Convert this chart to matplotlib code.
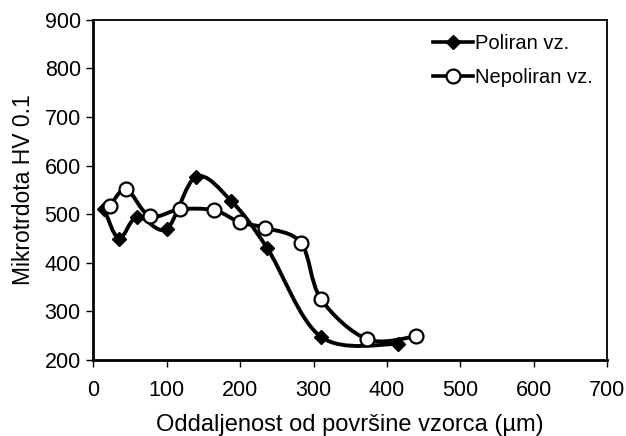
import numpy as np
import matplotlib.pyplot as plt
from matplotlib.path import Path
from matplotlib.patches import PathPatch

plt.rcParams['font.family'] = ['Liberation Sans', 'DejaVu Sans']

# Data
polirani_x = [15, 35, 60, 100, 140, 188, 237, 310, 415]
polirani_y = [510, 450, 495, 470, 577, 527, 430, 248, 233]

nepolirani_x = [23, 45, 77, 118, 165, 200, 234, 283, 310, 373, 440]
nepolirani_y = [517, 551, 496, 510, 508, 483, 472, 441, 326, 243, 249]


def smooth_path(xs, ys):
    # Excel-style smoothed line: Catmull-Rom converted to cubic Bezier segments
    p = np.column_stack([xs, ys]).astype(float)
    verts = [p[0]]
    codes = [Path.MOVETO]
    n = len(p)
    for i in range(n - 1):
        p0 = p[i - 1] if i > 0 else p[i]
        p3 = p[i + 2] if i + 2 < n else p[i + 1]
        c1 = p[i] + (p[i + 1] - p0) / 6.0
        c2 = p[i + 1] - (p3 - p[i]) / 6.0
        verts += [c1, c2, p[i + 1]]
        codes += [Path.CURVE4] * 3
    return Path(verts, codes)


fig = plt.figure(figsize=(6.26, 4.36), dpi=100)
ax = fig.add_axes([0.149, 0.174, 0.821, 0.781])

for xs, ys in [(polirani_x, polirani_y), (nepolirani_x, nepolirani_y)]:
    ax.add_patch(PathPatch(smooth_path(xs, ys), facecolor='none',
                           edgecolor='black', lw=2.8, zorder=2))

ax.plot(polirani_x, polirani_y, linestyle='none', marker='D', markersize=7.5,
        color='black', zorder=3)
ax.plot(nepolirani_x, nepolirani_y, linestyle='none', marker='o', markersize=10,
        markerfacecolor='white', markeredgecolor='black', markeredgewidth=1.6,
        zorder=3)

# legend handles
h1, = ax.plot([], [], color='black', lw=2.6, marker='D', markersize=7.5,
              label='Poliran vz.')
h2, = ax.plot([], [], color='black', lw=2.6, marker='o', markersize=10,
              markerfacecolor='white', markeredgewidth=1.6,
              label='Nepoliran vz.')
ax.legend(handles=[h1, h2], loc='upper right', frameon=False, fontsize=14.5,
          handlelength=2.0, handletextpad=0.1, borderaxespad=0.3,
          labelspacing=0.75, bbox_to_anchor=(1.0, 1.0))

ax.set_xlim(0, 700)
ax.set_ylim(200, 900)
ax.set_xticks(range(0, 701, 100))
ax.set_yticks(range(200, 901, 100))
ax.tick_params(axis='both', labelsize=15.5, direction='out', length=5,
               width=1, color='black')
ax.tick_params(axis='x', pad=9)
ax.tick_params(axis='y', pad=4)

for side in ['left', 'bottom']:
    ax.spines[side].set_linewidth(2)
for side in ['top', 'right']:
    ax.spines[side].set_linewidth(1.3)

ax.set_xlabel('Oddaljenost od površine vzorca (µm)', fontsize=17, labelpad=10)
ax.set_ylabel('Mikrotrdota HV 0.1', fontsize=16.5, labelpad=7)

fig.savefig('out.png', dpi=100)
